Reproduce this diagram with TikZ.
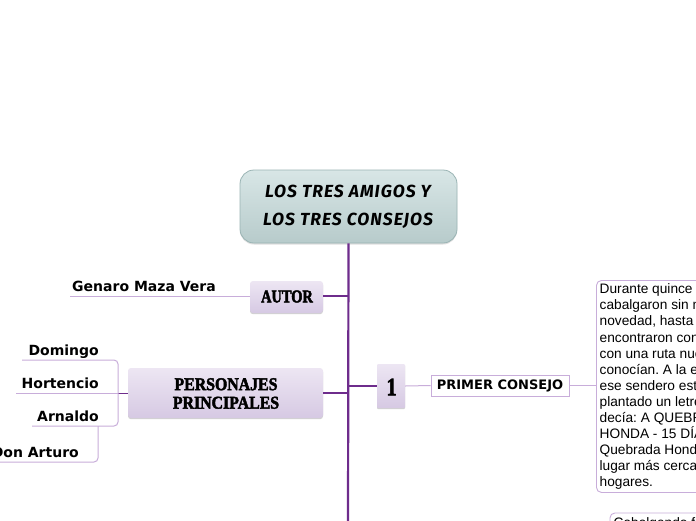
\documentclass[tikz,border=0pt]{standalone}
\usepackage{fontspec}
\usetikzlibrary{shadows,calc}
\setmainfont{Liberation Sans}
\newfontfamily\titlefont{Fira Sans}[LetterSpace=6]
\newfontfamily\labelfont{DejaVu Sans}
\newfontfamily\heavyserif{Liberation Serif}[UprightFont=* Bold, FakeStretch=0.8, FakeBold=2.5]
\newfontfamily\heavyserifwide{Liberation Serif}[UprightFont=* Bold, FakeStretch=0.88, FakeBold=2.5]
\newfontfamily\arialfont{Liberation Sans}
\definecolor{trunk}{HTML}{6E2C8C}
\definecolor{lightline}{HTML}{C8ADDA}
\definecolor{lavtop}{HTML}{EDE6F3}
\definecolor{lavbot}{HTML}{D6C9E3}
\definecolor{teatop}{HTML}{D8E6E6}
\definecolor{teabot}{HTML}{B7CBCB}
\definecolor{teaedge}{HTML}{9AB4B4}
\tikzset{
  trunkline/.style={draw=trunk, line width=2.2pt},
  branchline/.style={draw=trunk, line width=1.8pt},
  subline/.style={draw=lightline, line width=1pt},
  lavbox/.style={draw=none, rounded corners=3pt, top color=lavtop, bottom color=lavbot,
    drop shadow={shadow xshift=0pt, shadow yshift=-1.2pt, opacity=0.35}},
  leaflabel/.style={font=\labelfont\bfseries\fontsize{14}{16}\selectfont, inner sep=0pt, anchor=base east},
  heavylabel/.style={font=\heavyserif\fontsize{18}{18}\selectfont, align=center, inner sep=0pt},
}
\begin{document}
\frenchspacing
\begin{tikzpicture}[x=1pt,y=-1pt]
\clip (0,0) rectangle (696,520);
\fill[white] (0,0) rectangle (696,520);

% title
\node[draw=teaedge, line width=0.8pt, rounded corners=14pt, top color=teatop, bottom color=teabot,
  minimum width=217pt, minimum height=73pt, inner sep=0pt,
  drop shadow={shadow xshift=0pt, shadow yshift=-1.5pt, opacity=0.25}] (title) at (348.5,206.5) {};
\node[font=\titlefont\bfseries\itshape\fontsize{17.5}{28}\selectfont, align=center, inner sep=0pt] (titletext) at (348,207)
  {LOS TRES AMIGOS Y\\LOS TRES CONSEJOS};

% trunk
\coordinate (tend) at (348,525);
\draw[trunkline] (title.south) -- (tend);

% AUTOR
\node[lavbox, minimum width=73pt, minimum height=32pt, inner sep=0pt] (autor) at (286.5,297) {};
\node[heavylabel] (autortext) at (287,296.5) {AUTOR};
\coordinate (autorJ) at (348,296);
\draw[branchline, rounded corners=3pt] (autor.east |- autorJ) -- (autorJ);
\coordinate (genL) at (70,296);
\draw[subline] (autor.west |- genL) -- (genL);
\node[leaflabel] (gen) at (216,291) {Genaro Maza Vera};

% PERSONAJES PRINCIPALES
\node[lavbox, minimum width=195pt, minimum height=50pt, inner sep=0pt] (pers) at (225.5,393) {};
\node[heavylabel, font=\heavyserifwide\fontsize{18}{18.5}\selectfont] (perstext) at (226,393.5) {PERSONAJES\\PRINCIPALES};
\coordinate (persJ) at (348,393);
\draw[branchline] (pers.east |- persJ) -- (persJ);

% characters
\coordinate (j1) at (118,393);
\coordinate (domL) at (22,360);
\coordinate (hortL) at (16,393);
\coordinate (arnL) at (32,426);
\coordinate (j2) at (98,426);
\coordinate (artL) at (-5,462);
\draw[subline] (pers.west |- hortL) -- (hortL);
\draw[draw=trunk, line width=1pt] (pers.west |- hortL) -- (j1);
\draw[subline, rounded corners=4pt] (domL) -| (j1) |- (arnL);
\draw[subline, rounded corners=4pt] (j2) |- (artL);
\node[leaflabel] (dom) at (99,355) {Domingo};
\node[leaflabel] (hort) at (99,388) {Hortencio};
\node[leaflabel] (arn) at (99,421) {Arnaldo};
\node[leaflabel] (art) at (79,457) {Don Arturo};

% node 1
\node[lavbox, rounded corners=1pt, minimum width=28pt, minimum height=44pt, inner sep=0pt] (one) at (391,386) {};
\node[font=\heavyserif\fontsize{25}{25}\selectfont, inner sep=0pt] (onetext) at (391.5,387) {1};
\coordinate (oneJ) at (348,386);
\draw[branchline, rounded corners=3pt] (oneJ) -- (one.west |- oneJ);

% primer consejo
\node[draw=lightline, line width=0.9pt, fill=white, minimum width=138pt, minimum height=21pt, inner sep=0pt,
  font=\labelfont\bfseries\fontsize{13}{13}\selectfont] (primer) at (500,385.5) {PRIMER CONSEJO};
\draw[subline] (one.east) -- (primer.west);

% paragraph box
\node[draw=lightline, line width=0.9pt, rounded corners=5pt, fill=white, minimum width=180pt, minimum height=212pt,
  inner sep=0pt, anchor=north west] (para) at (596,280) {};
\node[anchor=north west, inner sep=0pt, align=left, font=\arialfont\fontsize{13.7}{16.1}\selectfont] (paratext) at (599.5,283.5)
  {Durante quince días\\cabalgaron sin mayor\\novedad, hasta que se\\encontraron con un cruce\\con una ruta nueva que no\\conocían. A la entrada de\\ese sendero estaba\\plantado un letrero que\\decía: A QUEBRADA\\HONDA - 15 DÍAS.\\Quebrada Honda era el\\lugar más cercano a sus\\hogares.};
\draw[subline] (primer.east) -- (primer.east -| para.west);

% next box (cut off)
\node[draw=lightline, line width=0.9pt, rounded corners=5pt, fill=white, minimum width=150pt, minimum height=60pt,
  inner sep=0pt, anchor=north west] (para2) at (609.5,512.5) {};
\node[anchor=north west, inner sep=0pt, align=left, font=\arialfont\fontsize{13.7}{16.1}\selectfont] (para2text) at (613.5,517.5)
  {Cabalgando f};
\end{tikzpicture}
\end{document}
